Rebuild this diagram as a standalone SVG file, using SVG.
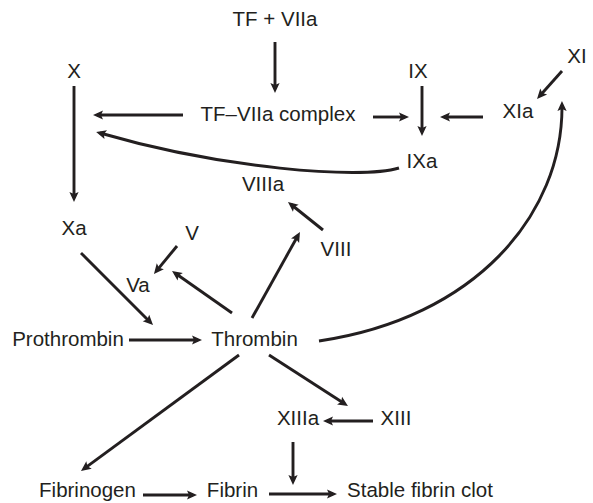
<svg xmlns="http://www.w3.org/2000/svg" width="593" height="503" viewBox="0 0 593 503">
<style>
text{font-family:"Liberation Sans",Arial,sans-serif;font-size:20.5px;fill:#231f20;text-anchor:middle}
.c line,.c path{stroke:#231f20;stroke-width:2.9;fill:none;marker-end:url(#ah)}
</style>
<defs>
<marker id="ah" markerUnits="userSpaceOnUse" markerWidth="20" markerHeight="20" viewBox="-10 -10 20 20" refX="0" refY="0" orient="auto">
<path d="M4,0 L-6,-4.6 L-4,0 L-6,4.6 Z" fill="#231f20"/>
</marker>
</defs>
<rect width="593" height="503" fill="#fff"/>
<g id="n-tfviia"><text x="275" y="26">TF + VIIa</text></g>
<g id="n-x"><text x="74" y="78">X</text></g>
<g id="n-complex"><text x="278" y="121">TF–VIIa complex</text></g>
<g id="n-ix"><text x="418" y="78">IX</text></g>
<g id="n-xia"><text x="518" y="118">XIa</text></g>
<g id="n-xi"><text x="577" y="63">XI</text></g>
<g id="n-ixa"><text x="422" y="168">IXa</text></g>
<g id="n-viiia"><text x="263" y="191">VIIIa</text></g>
<g id="n-xa"><text x="74" y="235">Xa</text></g>
<g id="n-v"><text x="192" y="240">V</text></g>
<g id="n-viii"><text x="336" y="256">VIII</text></g>
<g id="n-va"><text x="138" y="292">Va</text></g>
<g id="n-prothrombin"><text x="68" y="346">Prothrombin</text></g>
<g id="n-thrombin"><text x="254.5" y="346">Thrombin</text></g>
<g id="n-xiiia"><text x="298" y="425">XIIIa</text></g>
<g id="n-xiii"><text x="396" y="425">XIII</text></g>
<g id="n-fibrinogen"><text x="87.5" y="497">Fibrinogen</text></g>
<g id="n-fibrin"><text x="232.5" y="497">Fibrin</text></g>
<g id="n-clot"><text x="420" y="497">Stable fibrin clot</text></g>
<g id="connectors" class="c">
<line x1="275" y1="42" x2="275" y2="89"/>
<line x1="183" y1="115" x2="97" y2="115"/>
<line x1="74" y1="86" x2="74" y2="198"/>
<line x1="373" y1="117" x2="405" y2="117"/>
<line x1="483" y1="117" x2="444" y2="117"/>
<line x1="422" y1="86" x2="422" y2="132"/>
<line x1="562" y1="71" x2="539.7" y2="96"/>
<path d="M399,168 C360,180 220,168 100,133"/>
<path d="M319,341 C475,318 563,215 562,105"/>
<line x1="323" y1="230" x2="291.1" y2="204.5"/>
<line x1="252" y1="318" x2="298" y2="235.5"/>
<line x1="177" y1="246" x2="156.5" y2="270.9"/>
<line x1="232" y1="313" x2="175.3" y2="273.3"/>
<line x1="81" y1="253" x2="150.2" y2="322.2"/>
<line x1="129" y1="340" x2="198" y2="340"/>
<line x1="239" y1="355" x2="84.2" y2="468.6"/>
<line x1="143" y1="495" x2="193" y2="495"/>
<line x1="269" y1="494" x2="333" y2="494"/>
<line x1="269" y1="355" x2="344.6" y2="403.8"/>
<line x1="373" y1="421" x2="327" y2="421"/>
<line x1="293" y1="442" x2="293" y2="481"/>
</g>
</svg>
